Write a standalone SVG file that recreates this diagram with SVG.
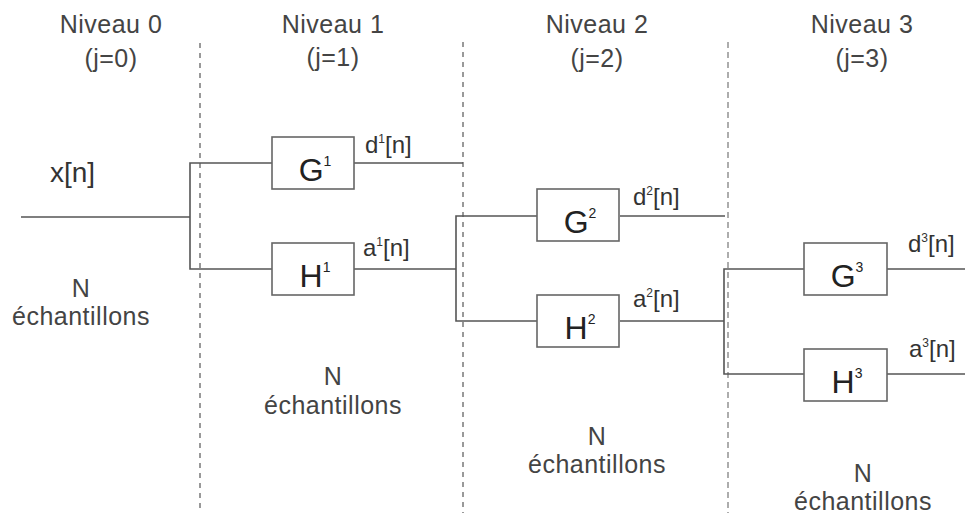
<svg xmlns="http://www.w3.org/2000/svg" width="965" height="515" viewBox="0 0 965 515">
<style>
.t{font-family:"Liberation Sans",Arial,sans-serif;fill:#444;font-size:25px;text-anchor:middle;letter-spacing:0.5px}
.lbl{font-family:"Liberation Sans",Arial,sans-serif;fill:#333;font-size:24px}
.box{fill:#fff;stroke:#666;stroke-width:1.6}
.bl{font-family:"Liberation Sans",Arial,sans-serif;fill:#222;font-size:32px;text-anchor:middle}
.w{fill:none;stroke:#555;stroke-width:1.6}
.sep{fill:none;stroke:#999;stroke-width:2;stroke-dasharray:5 5}
</style>
<rect width="965" height="515" fill="#fff"/>
<g id="separators">
<line class="sep" x1="200" y1="43" x2="200" y2="513"/>
<line class="sep" x1="463" y1="42" x2="463" y2="513"/>
<line class="sep" x1="728" y1="42" x2="728" y2="513" style="stroke-width:1.6;stroke-dasharray:6 4"/>
</g>
<g id="headers">
<text class="t" x="111" y="33">Niveau 0</text><text class="t" x="111" y="67">(j=0)</text>
<text class="t" x="333" y="33">Niveau 1</text><text class="t" x="333" y="66">(j=1)</text>
<text class="t" x="597" y="33">Niveau 2</text><text class="t" x="597" y="67">(j=2)</text>
<text class="t" x="862" y="33">Niveau 3</text><text class="t" x="862" y="67">(j=3)</text>
</g>
<g id="samples">
<text class="t" x="81" y="297">N</text><text class="t" x="81" y="325">échantillons</text>
<text class="t" x="333" y="385">N</text><text class="t" x="333" y="414">échantillons</text>
<text class="t" x="597" y="445">N</text><text class="t" x="597" y="473">échantillons</text>
<text class="t" x="863" y="482">N</text><text class="t" x="863" y="510">échantillons</text>
</g>
<g id="connectors">
<polyline class="w" points="21,217 190,217"/>
<polyline class="w" points="272,163 190,163 190,269 272,269"/>
<polyline class="w" points="354,163 463,163"/>
<polyline class="w" points="354,269 456,269"/>
<polyline class="w" points="537,216 456,216 456,321 537,321"/>
<polyline class="w" points="620,216 725,216"/>
<polyline class="w" points="620,321 724,321"/>
<polyline class="w" points="804,269 724,269 724,374 804,374"/>
<polyline class="w" points="887,269 965,269"/>
<polyline class="w" points="887,374 965,374"/>
</g>
<g id="input"><text class="lbl" x="50" y="182" style="font-size:28px">x[n]</text></g>
<g id="G1"><rect class="box" x="272" y="137" width="82" height="52"/><text class="bl" x="315" y="181">G<tspan font-size="14" dy="-15">1</tspan></text></g>
<g id="H1"><rect class="box" x="272" y="243" width="82" height="52"/><text class="bl" x="315" y="287">H<tspan font-size="14" dy="-15">1</tspan></text></g>
<g id="G2"><rect class="box" x="537" y="189" width="82" height="52"/><text class="bl" x="580" y="233">G<tspan font-size="14" dy="-15">2</tspan></text></g>
<g id="H2"><rect class="box" x="537" y="295" width="82" height="52"/><text class="bl" x="580" y="339">H<tspan font-size="14" dy="-15">2</tspan></text></g>
<g id="G3"><rect class="box" x="804" y="243" width="83" height="52"/><text class="bl" x="847" y="287">G<tspan font-size="14" dy="-15">3</tspan></text></g>
<g id="H3"><rect class="box" x="804" y="349" width="83" height="52"/><text class="bl" x="847" y="393">H<tspan font-size="14" dy="-15">3</tspan></text></g>
<g id="labels">
<text class="lbl" x="365" y="153">d<tspan font-size="12" dy="-10">1</tspan><tspan dy="10">[n]</tspan></text>
<text class="lbl" x="363" y="256">a<tspan font-size="12" dy="-10">1</tspan><tspan dy="10">[n]</tspan></text>
<text class="lbl" x="633" y="205">d<tspan font-size="12" dy="-10">2</tspan><tspan dy="10">[n]</tspan></text>
<text class="lbl" x="633" y="307">a<tspan font-size="12" dy="-10">2</tspan><tspan dy="10">[n]</tspan></text>
<text class="lbl" x="908" y="252">d<tspan font-size="12" dy="-10">3</tspan><tspan dy="10">[n]</tspan></text>
<text class="lbl" x="909" y="357">a<tspan font-size="12" dy="-10">3</tspan><tspan dy="10">[n]</tspan></text>
</g>
</svg>
